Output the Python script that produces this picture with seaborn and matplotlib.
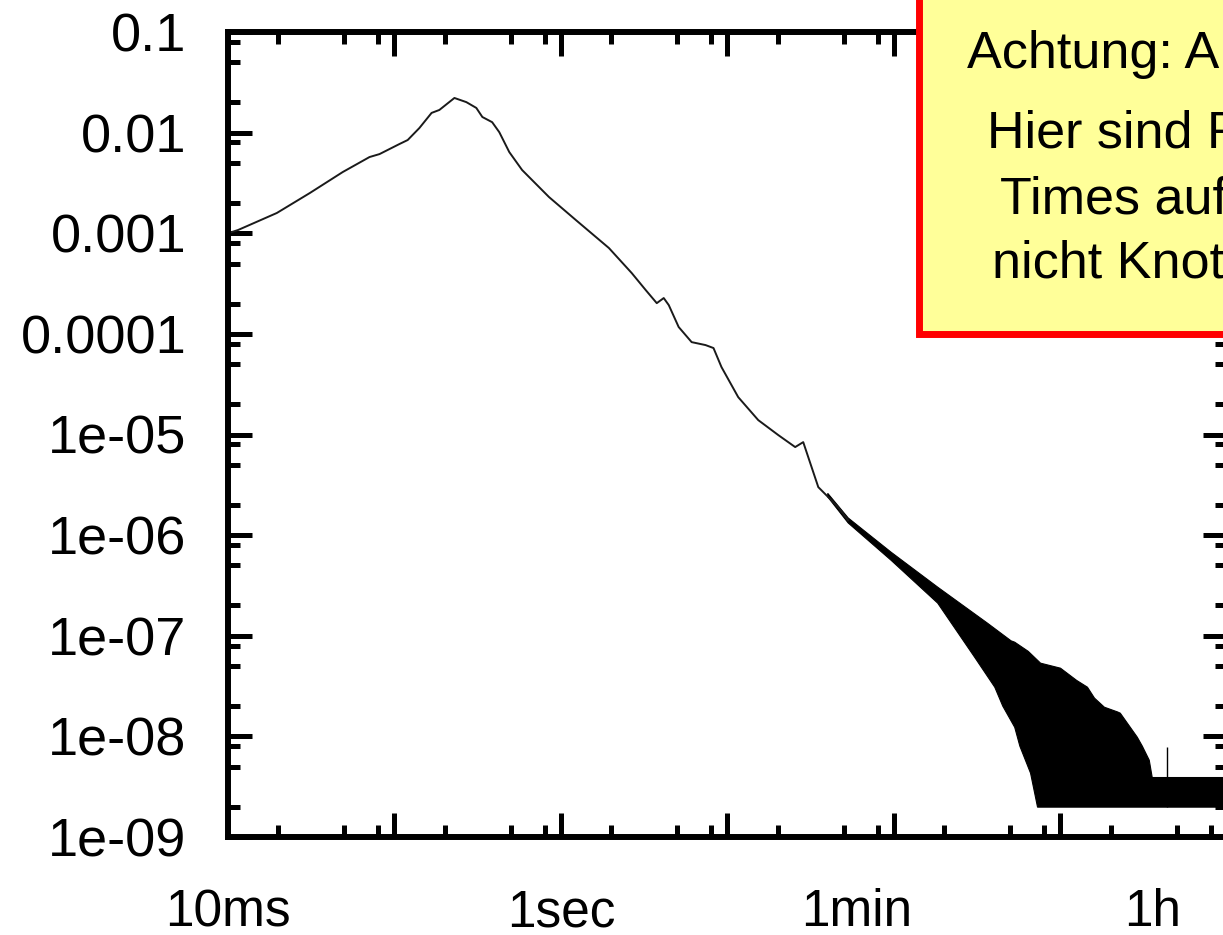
import numpy as np
import pandas as pd
import matplotlib
matplotlib.use('Agg')
import matplotlib.pyplot as plt
from matplotlib.ticker import LogLocator, NullFormatter
from matplotlib.patches import Rectangle
import seaborn as sns

# main curve (seconds, probability)
t_line = [0.0100, 0.01148, 0.01965, 0.0310, 0.0489, 0.0708, 0.0813, 0.107, 0.120,
          0.141, 0.167, 0.186, 0.229, 0.270, 0.310, 0.337, 0.386, 0.426, 0.489,
          0.584, 0.847, 1.23, 1.94, 2.66, 3.23, 3.76, 4.14, 4.44, 5.09, 6.09,
          7.38, 8.24, 9.20, 11.6, 15.3, 20.2, 25.5, 28.5, 31.4, 35.1, 46.2, 53.1]
p_line = [1.0e-3, 1.076e-3, 1.59e-3, 2.51e-3, 4.06e-3, 5.72e-3, 6.12e-3, 7.70e-3, 8.44e-3,
          1.11e-2, 1.57e-2, 1.68e-2, 2.21e-2, 2.01e-2, 1.76e-2, 1.43e-2, 1.27e-2, 1.01e-2, 6.41e-3,
          4.25e-3, 2.29e-3, 1.35e-3, 7.13e-4, 4.02e-4, 2.72e-4, 2.02e-4, 2.27e-4, 1.93e-4, 1.17e-4, 8.28e-5,
          7.74e-5, 7.23e-5, 4.68e-5, 2.35e-5, 1.39e-5, 9.86e-6, 7.50e-6, 8.40e-6, 5.20e-6, 3.00e-6, 1.90e-6, 1.40e-6]

# noisy tail: upper and lower envelope
t_hi = [40.0, 53.1, 95.9, 183, 365, 505, 531, 640, 759, 1000, 1250, 1452, 1600, 1834,
        2200, 2286, 2891, 3100, 3412, 3556, 10000]
p_hi = [2.6e-6, 1.48e-6, 6.78e-7, 3.04e-7, 1.33e-7, 8.9e-8, 8.63e-8, 7.0e-8, 5.34e-8,
        4.76e-8, 3.6e-8, 3.08e-8, 2.4e-8, 1.95e-8, 1.75e-8, 1.70e-8, 9.82e-9, 8.0e-9,
        5.80e-9, 3.9e-9, 3.9e-9]
t_lo = [40.0, 53.1, 95.9, 183, 305, 403, 450, 531, 570, 661, 728, 10000]
p_lo = [2.4e-6, 1.32e-6, 5.64e-7, 2.11e-7, 6.12e-8, 3.08e-8, 2.0e-8, 1.23e-8, 8.0e-9,
        4.31e-9, 1.98e-9, 1.98e-9]
# single spike above the floor
spike_t = [4375]
spike_p = [7.8e-9]

y_ticks = [1e-1, 1e-2, 1e-3, 1e-4, 1e-5, 1e-6, 1e-7, 1e-8, 1e-9]
y_labels = ['0.1', '0.01', '0.001', '0.0001', '1e-05', '1e-06', '1e-07', '1e-08', '1e-09']
x_label_pos = [0.01, 1, 60, 3600]
x_labels = ['10ms', '1sec', '1min', '1h']

note_lines = ['Achtung: A', 'Hier sind R', 'Times auf', 'nicht Knot']

sns.set_theme(style='ticks')
plt.rcParams['font.family'] = ['Liberation Sans', 'DejaVu Sans']
plt.rcParams['text.color'] = 'black'
plt.rcParams['xtick.color'] = 'black'
plt.rcParams['ytick.color'] = 'black'
plt.rcParams['xtick.labelcolor'] = 'black'
plt.rcParams['ytick.labelcolor'] = 'black'

W, H = 1223, 935
fig = plt.figure(figsize=(W / 100, H / 100), dpi=100)
ax = fig.add_axes([228 / W, 98 / H, 999 / W, 805 / H])
ax.set_xscale('log')
ax.set_yscale('log')

df = pd.DataFrame({'t': t_line, 'p': p_line})
sns.lineplot(data=df, x='t', y='p', ax=ax, color='#1a1a1a', lw=1.4,
             estimator=None, sort=False)
ax.fill(np.concatenate([t_hi, t_lo[::-1]]), np.concatenate([p_hi, p_lo[::-1]]),
        color='black', lw=0.8)
ax.vlines(spike_t, 2e-9, spike_p, color='black', lw=1.0)

ax.set_xlim(1e-2, 1e4)
ax.set_ylim(1e-9, 1e-1)
ax.set_xlabel('')
ax.set_ylabel('')

ax.set_yticks(y_ticks)
ax.set_yticklabels(y_labels)
ax.yaxis.set_minor_locator(LogLocator(base=10, subs=[2, 5, 8], numticks=30))
ax.yaxis.set_minor_formatter(NullFormatter())
ax.xaxis.set_major_locator(LogLocator(base=10, numticks=30))
ax.xaxis.set_major_formatter(NullFormatter())
ax.xaxis.set_minor_locator(LogLocator(base=10, subs=[2, 5, 8], numticks=30))
ax.xaxis.set_minor_formatter(NullFormatter())

ax.tick_params(which='both', direction='in', top=True, right=True,
               width=3.6, color='black')
ax.tick_params(which='major', length=17)
ax.tick_params(which='minor', length=8.6)
ax.tick_params(axis='y', labelsize=39, pad=30, labelcolor='black')
for s in ax.spines.values():
    s.set_visible(True)
    s.set_linewidth(4.3)
    s.set_color('black')

for xp, lab in zip(x_label_pos, x_labels):
    ax.text(xp, -0.094, lab, transform=ax.get_xaxis_transform(),
            ha='center', va='center', fontsize=37, color='black')

# the note box (cut off at the right edge)
fig.add_artist(Rectangle((918.5 / W, (H - 333.5) / H), 0.5, 0.5,
                         transform=fig.transFigure, facecolor='#FFFF99',
                         edgecolor='#FF0000', lw=5, zorder=5))
note_x = [967, 987, 1000, 992]
note_y = [68, 148, 213, 277]
for xx, yy, txt in zip(note_x, note_y, note_lines):
    fig.text(xx / W, 1 - yy / H, txt, ha='left', va='baseline',
             fontsize=37.5, color='black', zorder=6)

fig.savefig('out.png', dpi=100)
